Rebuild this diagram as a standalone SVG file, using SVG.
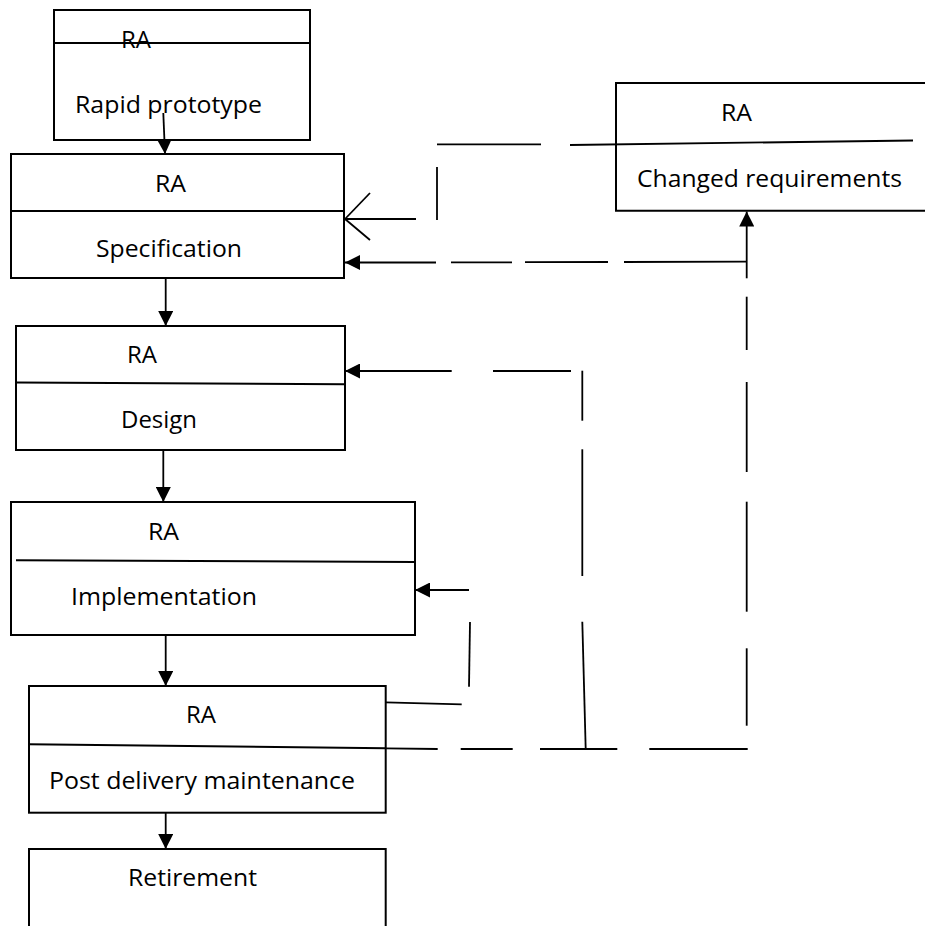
<svg xmlns="http://www.w3.org/2000/svg" width="925" height="926" viewBox="0 0 925 926">
  <style>
    .box { fill: none; stroke: #000; stroke-width: 2; }
    .div { fill: none; stroke: #000; stroke-width: 2; }
    .ln { fill: none; stroke: #000; stroke-width: 1.8; stroke-linecap: butt; }
    .arr { marker-end: url(#head); }
    text { font-family: "Open Sans", "Noto Sans", "Liberation Sans", sans-serif; font-size: 23.5px; fill: #000; }
  </style>
  <defs>
    <marker id="head" markerUnits="userSpaceOnUse" markerWidth="15" markerHeight="15" refX="14" refY="7" orient="auto" viewBox="0 0 14 14">
      <path d="M0,0 L14,7 L0,14 Z" fill="#000"/>
    </marker>
  </defs>

  <rect width="925" height="926" fill="#fff"/>

  <!-- process boxes -->
  <g id="rapid-prototype">
    <rect class="box" x="54" y="10" width="256" height="130"/>
    <line class="div" x1="54" y1="43" x2="310" y2="43"/>
    <text x="121" y="48" textLength="30" lengthAdjust="spacingAndGlyphs">RA</text>
    <text x="75" y="113" textLength="187" lengthAdjust="spacingAndGlyphs">Rapid prototype</text>
  </g>

  <g id="specification">
    <rect class="box" x="11" y="154" width="333" height="124"/>
    <line class="div" x1="11" y1="211" x2="344" y2="211"/>
    <text x="155" y="192" textLength="31" lengthAdjust="spacingAndGlyphs">RA</text>
    <text x="96" y="257" textLength="146" lengthAdjust="spacingAndGlyphs">Specification</text>
  </g>

  <g id="design">
    <rect class="box" x="16" y="326" width="329" height="124"/>
    <line class="div" x1="16" y1="382.5" x2="345" y2="384.3"/>
    <text x="127" y="363" textLength="30" lengthAdjust="spacingAndGlyphs">RA</text>
    <text x="121" y="428" textLength="76" lengthAdjust="spacingAndGlyphs">Design</text>
  </g>

  <g id="implementation">
    <rect class="box" x="11" y="502" width="404" height="133"/>
    <line class="div" x1="16" y1="560.3" x2="415" y2="562"/>
    <text x="148" y="540" textLength="31" lengthAdjust="spacingAndGlyphs">RA</text>
    <text x="71" y="605" textLength="186" lengthAdjust="spacingAndGlyphs">Implementation</text>
  </g>

  <g id="post-delivery-maintenance">
    <rect class="box" x="29" y="686" width="356.7" height="126.7"/>
    <line class="div" x1="29" y1="744.3" x2="385.7" y2="748.3"/>
    <text x="186" y="723" textLength="30" lengthAdjust="spacingAndGlyphs">RA</text>
    <text x="49" y="789" textLength="306" lengthAdjust="spacingAndGlyphs">Post delivery maintenance</text>
  </g>

  <g id="retirement">
    <path class="box" d="M29,927 V849 H385.7 V927"/>
    <text x="128" y="886" textLength="129" lengthAdjust="spacingAndGlyphs">Retirement</text>
  </g>

  <g id="changed-requirements">
    <path class="box" d="M926,83 H616 V210.7 H926"/>
    <text x="721" y="121" textLength="31" lengthAdjust="spacingAndGlyphs">RA</text>
    <text x="637" y="187" textLength="265" lengthAdjust="spacingAndGlyphs">Changed requirements</text>
  </g>

  <!-- connectors -->
  <g id="connectors">
    <!-- main flow -->
    <line class="ln arr" x1="163.3" y1="113" x2="165" y2="154"/>
    <line class="ln arr" x1="165.7" y1="278" x2="165.7" y2="326"/>
    <line class="ln arr" x1="163.3" y1="450" x2="163.3" y2="502"/>
    <line class="ln arr" x1="165.7" y1="635" x2="165.7" y2="686"/>
    <line class="ln arr" x1="165.7" y1="812.7" x2="165.7" y2="849"/>

    <!-- open arrow into Specification -->
    <line class="ln" x1="345" y1="219" x2="416" y2="219"/>
    <line class="ln" x1="345" y1="219" x2="370" y2="193"/>
    <line class="ln" x1="345" y1="219" x2="370" y2="240"/>
    <line class="ln" x1="437" y1="167" x2="437" y2="220"/>
    <line class="ln" x1="437" y1="144.3" x2="541" y2="144.3"/>
    <line class="ln" x1="570" y1="145" x2="913" y2="140.5"/>

    <!-- dashed return into Specification -->
    <line class="ln arr" x1="436" y1="262.5" x2="345" y2="262.5"/>
    <line class="ln" x1="451" y1="262.4" x2="512" y2="262.3"/>
    <line class="ln" x1="525" y1="262.2" x2="608" y2="262"/>
    <line class="ln" x1="624" y1="262" x2="747" y2="261.7"/>

    <!-- right trunk up to Changed requirements -->
    <line class="ln arr" x1="746.7" y1="278.3" x2="746.7" y2="211.5"/>
    <line class="ln" x1="746.7" y1="296.7" x2="746.7" y2="350"/>
    <line class="ln" x1="746.7" y1="382" x2="746.7" y2="472"/>
    <line class="ln" x1="746.7" y1="501.7" x2="746.7" y2="611.7"/>
    <line class="ln" x1="746.7" y1="648.3" x2="746.7" y2="725.7"/>

    <!-- return into Design -->
    <line class="ln arr" x1="451.7" y1="371" x2="345" y2="371"/>
    <line class="ln" x1="493" y1="371" x2="571" y2="371"/>
    <line class="ln" x1="582.3" y1="370.7" x2="582.3" y2="420.7"/>
    <line class="ln" x1="582.3" y1="449.3" x2="582.3" y2="576"/>
    <line class="ln" x1="582.3" y1="621.7" x2="585.7" y2="749"/>

    <!-- return into Implementation -->
    <line class="ln arr" x1="469" y1="590" x2="415" y2="590"/>
    <line class="ln" x1="470" y1="622" x2="469" y2="686.7"/>
    <line class="ln" x1="385.7" y1="702.3" x2="461.7" y2="704.3"/>

    <!-- bottom dashed run from Post delivery maintenance -->
    <line class="ln" x1="385.7" y1="748.3" x2="437.7" y2="749"/>
    <line class="ln" x1="460.7" y1="749" x2="512.7" y2="749"/>
    <line class="ln" x1="540" y1="749" x2="617.3" y2="749"/>
    <line class="ln" x1="649.3" y1="749" x2="747.7" y2="749"/>
  </g>
</svg>
